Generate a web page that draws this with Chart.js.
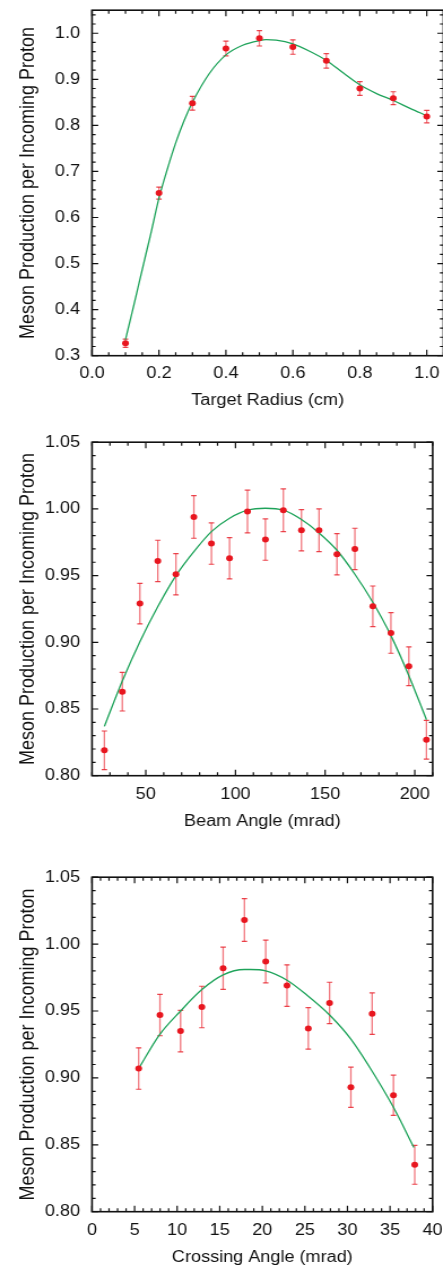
<!DOCTYPE html>
<html><head><meta charset="utf-8">
<script src="https://cdn.jsdelivr.net/npm/chart.js@4.4.1/dist/chart.umd.min.js"></script>
<style>
html,body{margin:0;padding:0;background:#fff;overflow:hidden;width:443px;height:1270px;position:relative;}
.wrap{position:absolute;left:0;transform-origin:0 0;transform:scaleX(1.13);}
canvas{display:block;}
</style></head><body>
<div class="wrap" id="w1"><canvas id="c1"></canvas></div>
<div class="wrap" id="w2"><canvas id="c2"></canvas></div>
<div class="wrap" id="w3"><canvas id="c3"></canvas></div>
<script>
// ---------- Panel 1: Target Radius ----------
const radiusX = [0.1, 0.2, 0.3, 0.4, 0.5, 0.6, 0.7, 0.8, 0.9, 1.0];
const radiusY = [0.327, 0.653, 0.848, 0.967, 0.989, 0.970, 0.940, 0.880, 0.859, 0.819];
const radiusErr = [0.009, 0.013, 0.015, 0.016, 0.0167, 0.0156, 0.0156, 0.015, 0.014, 0.0135];
const radiusFitX = [0.10, 0.125, 0.15, 0.175, 0.20, 0.225, 0.25, 0.275, 0.30, 0.35, 0.40, 0.45, 0.50, 0.52, 0.55, 0.60, 0.65, 0.70, 0.75, 0.80, 0.85, 0.90, 0.95, 1.00];
const radiusFitY = [0.335, 0.41, 0.487, 0.563, 0.642, 0.705, 0.762, 0.810, 0.850, 0.912, 0.953, 0.974, 0.984, 0.986, 0.985, 0.977, 0.961, 0.941, 0.914, 0.888, 0.869, 0.854, 0.837, 0.821];
const radiusXTicks = [0, 0.2, 0.4, 0.6, 0.8, 1.0];
const radiusXLabels = ['0.0', '0.2', '0.4', '0.6', '0.8', '1.0'];
const radiusYTicks = [0.3, 0.4, 0.5, 0.6, 0.7, 0.8, 0.9, 1.0];
const radiusYLabels = ['0.3', '0.4', '0.5', '0.6', '0.7', '0.8', '0.9', '1.0'];

// ---------- Panel 2: Beam Angle ----------
const beamX = [26.9, 36.9, 46.7, 56.7, 66.8, 76.8, 86.6, 96.7, 106.7, 116.7, 126.7, 136.8, 146.6, 156.6, 166.6, 176.6, 186.7, 196.7, 206.5];
const beamY = [0.819, 0.863, 0.929, 0.961, 0.951, 0.994, 0.974, 0.963, 0.998, 0.977, 0.999, 0.984, 0.984, 0.966, 0.970, 0.927, 0.907, 0.882, 0.827];
const beamErr = [0.0145, 0.0145, 0.0152, 0.0155, 0.0155, 0.016, 0.0155, 0.0155, 0.016, 0.0155, 0.016, 0.0155, 0.016, 0.0155, 0.0155, 0.0152, 0.0152, 0.0145, 0.0145];
const beamFitX = [26.9, 36.9, 46.9, 56.8, 66.8, 76.8, 86.6, 96.7, 106.7, 116.7, 126.7, 136.8, 146.6, 156.6, 166.6, 176.6, 186.7, 196.7, 206.5];
const beamFitY = [0.837, 0.871, 0.901, 0.927, 0.950, 0.968, 0.983, 0.993, 0.999, 1.0005, 0.999, 0.992, 0.982, 0.969, 0.951, 0.930, 0.905, 0.875, 0.842];
const beamXTicks = [50, 100, 150, 200];
const beamXLabels = ['50', '100', '150', '200'];
const beamYTicks = [0.80, 0.85, 0.90, 0.95, 1.00, 1.05];
const beamYLabels = ['0.80', '0.85', '0.90', '0.95', '1.00', '1.05'];

// ---------- Panel 3: Crossing Angle ----------
const crossX = [5.48, 7.98, 10.4, 12.9, 15.4, 17.9, 20.4, 22.9, 25.4, 27.9, 30.4, 32.9, 35.4, 37.9];
const crossY = [0.907, 0.947, 0.935, 0.953, 0.982, 1.018, 0.987, 0.969, 0.937, 0.956, 0.893, 0.948, 0.887, 0.835];
const crossErr = [0.0155, 0.0155, 0.0155, 0.0155, 0.0158, 0.016, 0.016, 0.0155, 0.0155, 0.0155, 0.015, 0.0155, 0.015, 0.0145];
const crossFitX = [5.48, 7.9, 10.4, 12.9, 15.4, 17.9, 18.6, 20.4, 22.9, 25.4, 27.9, 30.4, 32.9, 35.4, 37.8];
const crossFitY = [0.907, 0.932, 0.950, 0.966, 0.977, 0.981, 0.981, 0.980, 0.973, 0.961, 0.947, 0.929, 0.905, 0.878, 0.848];
const crossXTicks = [0, 5, 10, 15, 20, 25, 30, 35, 40];
const crossXLabels = ['0', '5', '10', '15', '20', '25', '30', '35', '40'];
const crossYTicks = [0.80, 0.85, 0.90, 0.95, 1.00, 1.05];
const crossYLabels = ['0.80', '0.85', '0.90', '0.95', '1.00', '1.05'];

const yTitle = 'Meson Production per Incoming Proton';

// ---------- rendering ----------
const K = 1.13;         // horizontal stretch of the reference figure
const W = 410;          // internal canvas width
const CH = 440;         // canvas height
const FONT = "'Liberation Sans', Arial, Helvetica, sans-serif";
Chart.defaults.font.family = FONT;
Chart.defaults.color = '#111';

function minorVals(min, max, step, majors) {
  const out = [];
  const k0 = Math.ceil(min / step - 1e-6), k1 = Math.floor(max / step + 1e-6);
  for (let k = k0; k <= k1; k++) {
    const v = +(k * step).toFixed(6);
    if (!majors.some(m => Math.abs(m - v) < step * 1e-3)) out.push(v);
  }
  return out;
}

function build(p) {
  const wrap = document.getElementById(p.wrap);
  wrap.style.top = p.top + 'px';
  const canvas = document.getElementById(p.canvas);
  canvas.width = W; canvas.height = CH;
  canvas.style.width = W + 'px'; canvas.style.height = CH + 'px';
  const padTop = p.plotTop - p.top;
  const plotH = p.plotBottom - p.plotTop;
  const xAxisH = CH - padTop - plotH;
  const yAxisW = 92 / K;
  const padRight = W - p.plotRight / K;
  const titleCenterRel = p.plotBottom + p.titleDy - p.top;
  const titlePadBottom = CH - titleCenterRel - 16 * 1.2 / 2;
  const xMinor = minorVals(p.xMin, p.xMax, p.xMinorStep, p.xTicks);
  const yMinor = minorVals(p.yMin, p.yMax, p.yMinorStep, p.yTicks);

  const decor = {
    id: 'decor_' + p.canvas,
    beforeDatasetsDraw(chart) {
      const { ctx, scales: { x, y } } = chart;
      ctx.save();
      ctx.lineWidth = 1.3;
      for (let i = 0; i < p.xs.length; i++) {
        const px = x.getPixelForValue(p.xs[i]);
        const a = y.getPixelForValue(p.ys[i] + p.errs[i]);
        const b = y.getPixelForValue(p.ys[i] - p.errs[i]);
        ctx.strokeStyle = 'rgba(232,36,46,0.62)';
        ctx.beginPath(); ctx.moveTo(px, a); ctx.lineTo(px, b); ctx.stroke();
        ctx.strokeStyle = 'rgba(232,36,46,0.85)';
        ctx.lineWidth = 1.2;
        ctx.beginPath();
        ctx.moveTo(px - 2.4, a); ctx.lineTo(px + 2.4, a);
        ctx.moveTo(px - 2.4, b); ctx.lineTo(px + 2.4, b);
        ctx.stroke();
        ctx.lineWidth = 1.3;
      }
      ctx.restore();
    },
    afterDraw(chart) {
      const { ctx, chartArea: { left, right, top, bottom }, scales: { x, y } } = chart;
      ctx.save();
      ctx.strokeStyle = '#111';
      ctx.lineWidth = 1.2;
      ctx.beginPath();
      const tx = (v, len) => { const px = x.getPixelForValue(v); ctx.moveTo(px, bottom); ctx.lineTo(px, bottom - len); ctx.moveTo(px, top); ctx.lineTo(px, top + len); };
      const ty = (v, len) => { const py = y.getPixelForValue(v); ctx.moveTo(left, py); ctx.lineTo(left + len, py); ctx.moveTo(right, py); ctx.lineTo(right - len, py); };
      p.xTicks.forEach(v => tx(v, 6));
      xMinor.forEach(v => tx(v, 3.5));
      p.yTicks.forEach(v => ty(v, 5.5));
      yMinor.forEach(v => ty(v, 3.2));
      ctx.stroke();
      ctx.lineWidth = 1.6;
      ctx.strokeRect(left, top, right - left, bottom - top);
      ctx.restore();
    }
  };

  new Chart(canvas, {
    type: 'scatter',
    data: {
      datasets: [
        {
          data: p.xs.map((v, i) => ({ x: v, y: p.ys[i] })),
          pointRadius: 3, pointBackgroundColor: '#e8161f', pointBorderWidth: 0,
          showLine: false
        },
        {
          data: p.fx.map((v, i) => ({ x: v, y: p.fy[i] })),
          showLine: true, pointRadius: 0, borderColor: '#1ea35a', borderWidth: 1.3,
          cubicInterpolationMode: 'monotone', fill: false
        }
      ]
    },
    options: {
      responsive: false, animation: false, events: [],
      layout: { padding: { top: padTop, right: padRight, left: 0, bottom: 0 } },
      plugins: { legend: { display: false }, tooltip: { enabled: false } },
      scales: {
        x: {
          type: 'linear', min: p.xMin, max: p.xMax,
          afterBuildTicks: s => { s.ticks = p.xTicks.map(v => ({ value: v })); },
          afterFit: s => { s.height = xAxisH; },
          grid: { display: false, drawTicks: false },
          border: { display: false },
          ticks: { padding: p.xLabPad, maxRotation: 0, autoSkip: false, font: { size: 16 }, color: '#111',
                   callback: (v, i) => p.xLabels[i] },
          title: { display: true, text: p.xTitle, font: { size: 16 }, color: '#111', padding: { top: 0, bottom: titlePadBottom } }
        },
        y: {
          type: 'linear', min: p.yMin, max: p.yMax,
          afterBuildTicks: s => { s.ticks = p.yTicks.map(v => ({ value: v })); },
          afterFit: s => { s.width = yAxisW; },
          grid: { display: false, drawTicks: false },
          border: { display: false },
          ticks: { padding: 10.6, autoSkip: false, font: { size: 16 }, color: '#111',
                   callback: (v, i) => p.yLabels[i] },
          title: { display: true, text: yTitle, font: { size: 18 }, color: '#111', padding: { top: 13.8, bottom: 0 } }
        }
      }
    },
    plugins: [decor]
  });
}

build({
  wrap: 'w1', canvas: 'c1', top: -10, plotTop: 3.85, plotBottom: 355.7, plotRight: 443.5, titleDy: 45, xLabPad: 8,
  xs: radiusX, ys: radiusY, errs: radiusErr, fx: radiusFitX, fy: radiusFitY,
  xMin: 0, xMax: 1.05, yMin: 0.3, yMax: 1.05,
  xTicks: radiusXTicks, xLabels: radiusXLabels, yTicks: radiusYTicks, yLabels: radiusYLabels,
  xMinorStep: 0.05, yMinorStep: 0.02, xTitle: 'Target Radius (cm)'
});
build({
  wrap: 'w2', canvas: 'c2', top: 422, plotTop: 435.7, plotBottom: 775.7, plotRight: 432.7, titleDy: 45.5, xLabPad: 9.4,
  xs: beamX, ys: beamY, errs: beamErr, fx: beamFitX, fy: beamFitY,
  xMin: 20, xMax: 210, yMin: 0.80, yMax: 1.05,
  xTicks: beamXTicks, xLabels: beamXLabels, yTicks: beamYTicks, yLabels: beamYLabels,
  xMinorStep: 10, yMinorStep: 0.01, xTitle: 'Beam Angle (mrad)'
});
build({
  wrap: 'w3', canvas: 'c3', top: 857, plotTop: 871, plotBottom: 1211.7, plotRight: 432.6, titleDy: 46, xLabPad: 9.4,
  xs: crossX, ys: crossY, errs: crossErr, fx: crossFitX, fy: crossFitY,
  xMin: 0, xMax: 40, yMin: 0.80, yMax: 1.05,
  xTicks: crossXTicks, xLabels: crossXLabels, yTicks: crossYTicks, yLabels: crossYLabels,
  xMinorStep: 1, yMinorStep: 0.01, xTitle: 'Crossing Angle (mrad)'
});
</script>
</body></html>
